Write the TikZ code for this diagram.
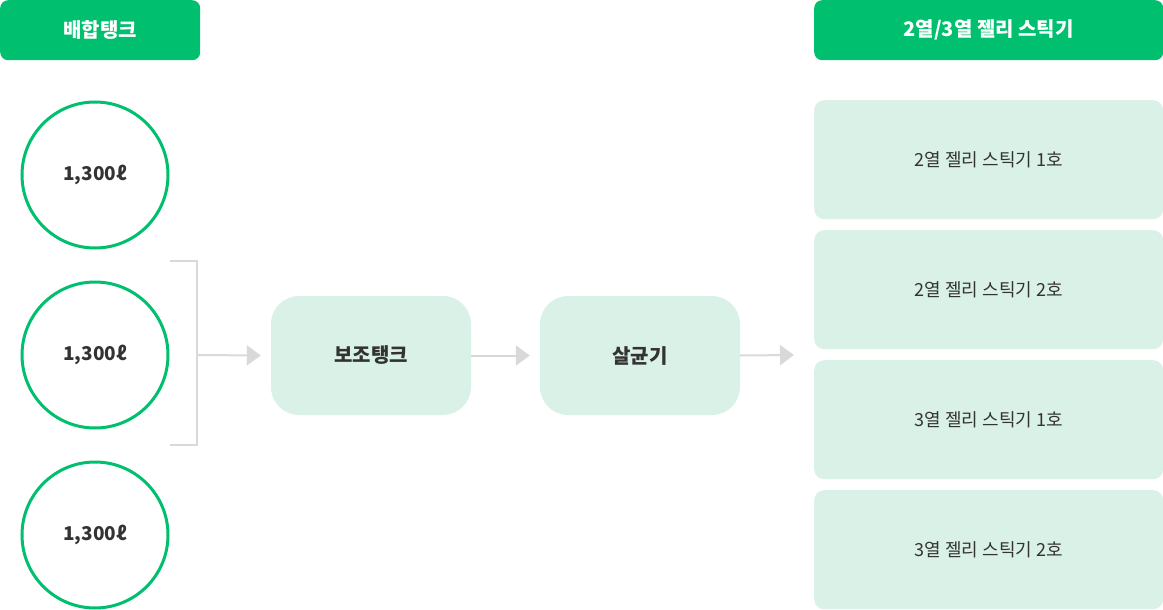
\documentclass[tikz,border=0pt]{standalone}
\usepackage{fontspec}
\setmainfont{Noto Sans CJK KR}
\newfontfamily\kr{Noto Sans CJK KR}
\usetikzlibrary{arrows.meta}
\definecolor{hdrgreen}{HTML}{00BF6F}
\definecolor{lightmint}{HTML}{DAF1E8}
\definecolor{txtgray}{HTML}{333333}
\definecolor{linegray}{HTML}{D9D9D9}
\tikzset{
  header/.style={fill=hdrgreen, rounded corners=8pt, text=white, font=\kr\bfseries\fontsize{20}{24}\selectfont, inner sep=0pt, anchor=north west},
  tank/.style={circle, draw=hdrgreen, line width=3pt, minimum size=146pt, inner sep=0pt, text=txtgray, font=\kr\bfseries\fontsize{19}{22}\selectfont},
  procbox/.style={fill=lightmint, rounded corners=28pt, minimum width=200pt, minimum height=119pt, inner sep=0pt, text=txtgray, font=\kr\bfseries\fontsize{20}{24}\selectfont},
  stickbox/.style={fill=lightmint, rounded corners=10pt, minimum width=349pt, minimum height=119pt, inner sep=0pt, anchor=north west, text=txtgray, font=\kr\fontsize{18}{22}\selectfont},
  conn/.style={draw=linegray, line width=2pt},
  flow/.style={conn, -{Triangle[length=14pt, width=20pt]}, color=linegray, fill=linegray},
}
\begin{document}
\begin{tikzpicture}[x=1pt, y=-1pt]
\useasboundingbox (0,0) rectangle (1163,610);
\node[header, minimum width=200pt, minimum height=60pt] (h1) at (0,0) {배합탱크};
\node[header, minimum width=349pt, minimum height=60pt] (h2) at (814,0) {2열/3열 젤리 스틱기};

\node[tank] (t1) at (95,175) {1,300ℓ};
\node[tank] (t2) at (95,355) {1,300ℓ};
\node[tank] (t3) at (95,535) {1,300ℓ};

\coordinate (b1) at (170,261);
\coordinate (b2) at (197,261);
\coordinate (b3) at (197,445);
\coordinate (b4) at (170,445);
\coordinate (bm) at (197,355);
\draw[conn] (b1) -- (b2) -- (b3) -- (b4);

\node[procbox] (aux) at (371,355.5) {보조탱크};
\node[procbox] (ster) at (640,355.5) {살균기};

\coordinate (e1) at (794,355);
\draw[flow] (bm) -- ([xshift=-10pt]aux.west);
\draw[flow] (aux.east) -- ([xshift=-10pt]ster.west);
\draw[flow] (ster.east) -- (e1);

\node[stickbox] (s1) at (814,100) {2열 젤리 스틱기 1호};
\node[stickbox] (s2) at (814,230) {2열 젤리 스틱기 2호};
\node[stickbox] (s3) at (814,360) {3열 젤리 스틱기 1호};
\node[stickbox] (s4) at (814,490) {3열 젤리 스틱기 2호};
\end{tikzpicture}
\end{document}
